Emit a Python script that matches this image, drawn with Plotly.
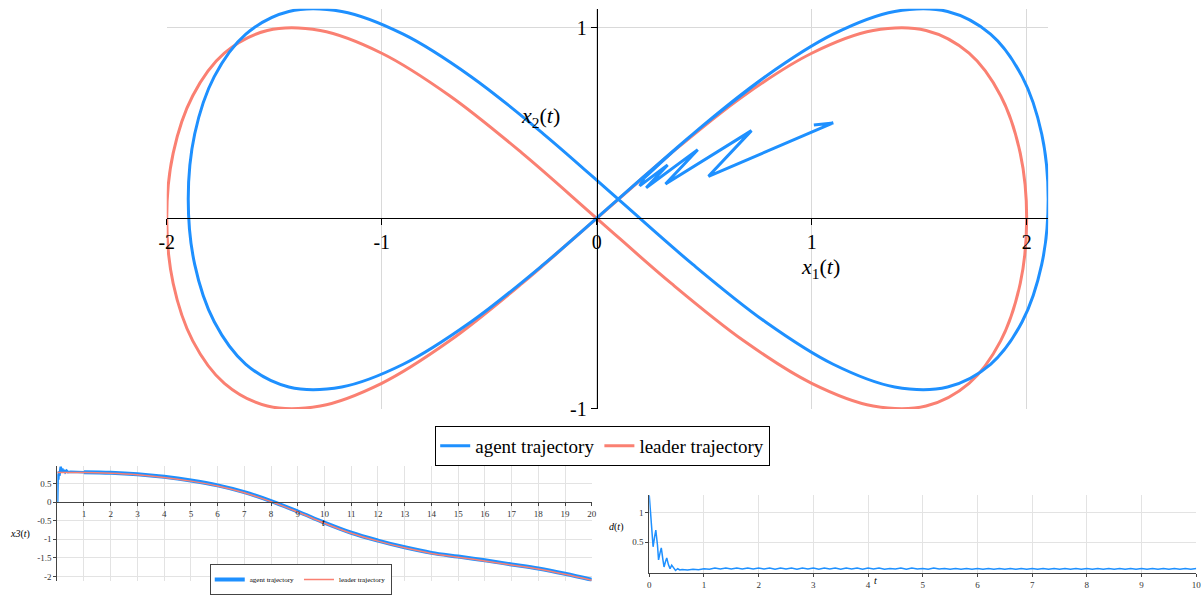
import plotly.graph_objects as go

BLUE = '#1E90FF'
RED = '#FA8072'
GRID = '#d9d9d9'
SERIF = 'Liberation Serif, Times New Roman, serif'

# ---- main plot: x2(t) against x1(t) ----
leader_x1 = [-0.347, 0, 0.347, 0.684, 1.0, 1.286, 1.532, 1.732, 1.879, 1.970, 2.0,
             1.970, 1.879, 1.732, 1.532, 1.286, 1.0, 0.684, 0.347, 0,
             -0.347, -0.684, -1.0, -1.286, -1.532, -1.732, -1.879, -1.970, -2.0,
             -1.970, -1.879, -1.732, -1.532, -1.286, -1.0, -0.684, -0.347, 0, 0.347]
leader_x2 = [-0.342, 0, 0.342, 0.643, 0.866, 0.985, 0.985, 0.866, 0.643, 0.342, 0,
             -0.342, -0.643, -0.866, -0.985, -0.985, -0.866, -0.643, -0.342, 0,
             0.342, 0.643, 0.866, 0.985, 0.985, 0.866, 0.643, 0.342, 0,
             -0.342, -0.643, -0.866, -0.985, -0.985, -0.866, -0.643, -0.342, 0, 0.342]

# agent start-up zigzag (straight segments)
agent_start_x1 = [1.01, 1.10, 0.52, 0.72, 0.32, 0.47, 0.23, 0.33, 0.20, 0.22]
agent_start_x2 = [0.49, 0.50, 0.22, 0.46, 0.18, 0.36, 0.16, 0.28, 0.17, 0.21]
# agent loop
agent_x1 = [0.22, 0.447, 0.784, 1.1, 1.386, 1.632, 1.832, 1.979, 2.07, 2.1,
            2.07, 1.979, 1.832, 1.632, 1.386, 1.1, 0.784, 0.447, 0.1,
            -0.247, -0.584, -0.9, -1.186, -1.432, -1.632, -1.779, -1.87, -1.9,
            -1.87, -1.779, -1.632, -1.432, -1.186, -0.9, -0.584, -0.247, 0.1, 0.447, 0.784]
agent_x2 = [0.21, 0.442, 0.743, 0.966, 1.085, 1.085, 0.966, 0.743, 0.442, 0.1,
            -0.242, -0.543, -0.766, -0.885, -0.885, -0.766, -0.543, -0.242, 0.1,
            0.442, 0.743, 0.966, 1.085, 1.085, 0.966, 0.743, 0.442, 0.1,
            -0.242, -0.543, -0.766, -0.885, -0.885, -0.766, -0.543, -0.242, 0.1, 0.442, 0.743]

# ---- bottom left: x3(t) ----
x3_t = [0, 1, 2, 3, 4, 5, 6, 7, 8, 9, 10, 11, 12, 13, 14, 15, 16, 17, 18, 19, 20]
x3_leader = [0.79, 0.79, 0.77, 0.73, 0.66, 0.56, 0.43, 0.25, 0.01, -0.27, -0.57,
             -0.84, -1.05, -1.23, -1.38, -1.48, -1.58, -1.69, -1.80, -1.94, -2.10]
x3_agent_start_t = [0, 0.01, 0.02, 0.04, 0.06, 0.08, 0.1, 0.13, 0.16, 0.19, 0.22, 0.26, 0.3, 0.35, 0.4, 0.5, 1]
x3_agent_start = [0, 0.55, 0.74, 0.6, 0.82, 0.7, 0.88, 0.95, 0.8, 0.9, 0.79, 0.86, 0.8, 0.84, 0.8, 0.81, 0.80]
x3_agent_t = [1, 2, 3, 4, 5, 6, 7, 8, 9, 10, 11, 12, 13, 14, 15, 16, 17, 18, 19, 20]
x3_agent = [0.80, 0.785, 0.745, 0.675, 0.575, 0.445, 0.265, 0.025, -0.255, -0.555,
            -0.825, -1.035, -1.215, -1.365, -1.465, -1.565, -1.675, -1.785, -1.925, -2.085]

# ---- bottom right: d(t) ----
d_t = [0, 0.02, 0.04, 0.07, 0.1, 0.12, 0.15, 0.17, 0.2, 0.22, 0.25, 0.27, 0.3, 0.32, 0.35,
       0.38, 0.41, 0.45, 0.48, 0.52, 0.56,
       0.6, 0.7, 0.8, 0.9, 1.0, 1.1, 1.2, 1.3, 1.4, 1.5, 1.6, 1.7, 1.8, 1.9, 2.0,
       2.1, 2.2, 2.3, 2.4, 2.5, 2.6, 2.7, 2.8, 2.9, 3.0, 3.1, 3.2, 3.3, 3.4, 3.5,
       3.6, 3.7, 3.8, 3.9, 4.0, 4.1, 4.2, 4.3, 4.4, 4.5, 4.6, 4.7, 4.8, 4.9, 5.0,
       5.1, 5.2, 5.3, 5.4, 5.5, 5.6, 5.7, 5.8, 5.9, 6.0, 6.1, 6.2, 6.3, 6.4, 6.5,
       6.6, 6.7, 6.8, 6.9, 7.0, 7.1, 7.2, 7.3, 7.4, 7.5, 7.6, 7.7, 7.8, 7.9, 8.0,
       8.1, 8.2, 8.3, 8.4, 8.5, 8.6, 8.7, 8.8, 8.9, 9.0, 9.1, 9.2, 9.3, 9.4, 9.5,
       9.6, 9.7, 9.8, 9.9, 10.0]
d_val = [1.29, 1.05, 0.78, 0.42, 0.6, 0.70, 0.45, 0.20, 0.33, 0.40, 0.2, 0.08, 0.18, 0.23, 0.12,
         0.05, 0.11, 0.06, 0.02, 0.05, 0.03,
         0.035, 0.03, 0.04, 0.035, 0.05, 0.04, 0.06, 0.045, 0.06, 0.045, 0.06, 0.045, 0.06, 0.045, 0.06,
         0.045, 0.06, 0.04, 0.06, 0.045, 0.06, 0.04, 0.06, 0.045, 0.06, 0.04, 0.06, 0.045, 0.06, 0.04,
         0.06, 0.045, 0.06, 0.04, 0.06, 0.045, 0.06, 0.04, 0.055, 0.045, 0.06, 0.04, 0.06, 0.045, 0.055,
         0.04, 0.06, 0.045, 0.055, 0.04, 0.055, 0.04, 0.055, 0.04, 0.055, 0.04, 0.055, 0.04, 0.055, 0.04,
         0.055, 0.04, 0.055, 0.04, 0.055, 0.04, 0.055, 0.04, 0.055, 0.04, 0.055, 0.04, 0.055, 0.04, 0.055,
         0.04, 0.055, 0.04, 0.055, 0.04, 0.055, 0.04, 0.055, 0.04, 0.055, 0.04, 0.055, 0.04, 0.055, 0.04,
         0.055, 0.04, 0.055, 0.04, 0.055]

fig = go.Figure()

# main
fig.add_trace(go.Scatter(x=leader_x1, y=leader_x2, mode='lines', name='leader trajectory',
                         line=dict(color=RED, width=3, shape='spline'), legendrank=2))
fig.add_trace(go.Scatter(x=agent_start_x1, y=agent_start_x2, mode='lines', name='agent trajectory',
                         line=dict(color=BLUE, width=3), legendgroup='a1', showlegend=False))
fig.add_trace(go.Scatter(x=agent_x1, y=agent_x2, mode='lines', name='agent trajectory',
                         line=dict(color=BLUE, width=3, shape='spline'), legendgroup='a1', legendrank=1))

# x3
fig.add_trace(go.Scatter(x=x3_agent_start_t, y=x3_agent_start, mode='lines', xaxis='x2', yaxis='y2',
                         line=dict(color=BLUE, width=2.5), legend='legend2', showlegend=False,
                         legendgroup='a2'))
fig.add_trace(go.Scatter(x=x3_agent_t, y=x3_agent, mode='lines', xaxis='x2', yaxis='y2',
                         name='agent trajectory', line=dict(color=BLUE, width=4, shape='spline'),
                         legend='legend2', legendgroup='a2', legendrank=1))
fig.add_trace(go.Scatter(x=x3_t, y=x3_leader, mode='lines', xaxis='x2', yaxis='y2',
                         name='leader trajectory', line=dict(color=RED, width=1.5, shape='spline'),
                         legend='legend2', legendrank=2))

# d(t)
fig.add_trace(go.Scatter(x=d_t, y=d_val, mode='lines', xaxis='x3', yaxis='y3', showlegend=False,
                         line=dict(color=BLUE, width=1.5)))

small_axis = dict(showgrid=True, gridcolor='#e3e3e3', gridwidth=1, showline=True, linecolor='#444',
                  linewidth=1, ticks='outside', ticklen=3, tickcolor='#444', zeroline=False,
                  tickfont=dict(family=SERIF, size=9, color='#333'))

fig.update_layout(
    paper_bgcolor='white', plot_bgcolor='white',
    margin=dict(l=0, r=0, t=0, b=0, autoexpand=False),
    width=1203, height=599,
    font=dict(family=SERIF, color='black'),
    xaxis=dict(domain=[0.1386, 0.8713], range=[-2, 2.1], anchor='free', position=0.6356,
               tickvals=[-2, -1, 0, 1, 2], ticktext=['-2', '-1', '0', '1', '2'],
               showgrid=True, gridcolor=GRID, showline=True, linecolor='black', linewidth=1,
               ticks='outside', ticklen=6, tickcolor='black', zeroline=False,
               tickfont=dict(family=SERIF, size=20, color='black')),
    yaxis=dict(domain=[0.3174, 0.9856], range=[-1, 1.1], anchor='free', position=0.4960,
               tickvals=[-1, 1], ticktext=['-1', '1'],
               showgrid=True, gridcolor=GRID, showline=True, linecolor='black', linewidth=1,
               ticks='outside', ticklen=6, tickcolor='black', zeroline=False,
               tickfont=dict(family=SERIF, size=20, color='black')),
    xaxis2=dict(domain=[0.0476, 0.4919], range=[0, 20], anchor='free', position=0.1619,
                tickvals=list(range(1, 21)), **small_axis),
    yaxis2=dict(domain=[0.0294, 0.2223], range=[-2.13, 0.97], anchor='x2',
                tickvals=[-2, -1.5, -1, -0.5, 0, 0.5],
                ticktext=['-2', '-1.5', '-1', '-0.5', '0', '0.5'], **small_axis),
    xaxis3=dict(domain=[0.5397, 0.9944], range=[0, 10], anchor='y3',
                tickvals=list(range(0, 11)), **small_axis),
    yaxis3=dict(domain=[0.0436, 0.1743], range=[-0.02, 1.3], anchor='x3',
                tickvals=[0.5, 1], ticktext=['0.5', '1'], **small_axis),
    legend=dict(orientation='h', x=0.501, y=0.289, xanchor='center', yanchor='top',
                bordercolor='black', borderwidth=1, bgcolor='white',
                font=dict(family=SERIF, size=19, color='black')),
    legend2=dict(orientation='h', x=0.25, y=0.0067, xanchor='center', yanchor='bottom',
                 bordercolor='#444', borderwidth=1, bgcolor='white', itemwidth=30,
                 font=dict(family=SERIF, size=7, color='black')),
    annotations=[
        dict(x=1.04, y=-0.26, xref='x', yref='y', showarrow=False,
             text='<i>x</i><sub>1</sub>(<i>t</i>)', font=dict(family=SERIF, size=22)),
        dict(x=-0.26, y=0.53, xref='x', yref='y', showarrow=False,
             text='<i>x</i><sub>2</sub>(<i>t</i>)', font=dict(family=SERIF, size=22)),
        dict(x=0.0067, y=0.0952, xref='paper', yref='paper', showarrow=False, xanchor='left',
             text='<i>x3</i>(<i>t</i>)', font=dict(family=SERIF, size=10)),
        dict(x=9.98, y=-0.56, xref='x2', yref='y2', showarrow=False,
             text='<i>t</i>', font=dict(family=SERIF, size=10)),
        dict(x=0.5121, y=0.1068, xref='paper', yref='paper', showarrow=False,
             text='<i>d</i>(<i>t</i>)', font=dict(family=SERIF, size=10)),
        dict(x=0.7307, y=0.0184, xref='paper', yref='paper', showarrow=False,
             text='<i>t</i>', font=dict(family=SERIF, size=10)),
    ],
)

# drop the default 8px body margin so the 1203x599 figure fills the window exactly
fig.write_html('out.html', config={'displayModeBar': False},
               post_script="document.body.style.margin='0';document.body.style.overflow='hidden';")
